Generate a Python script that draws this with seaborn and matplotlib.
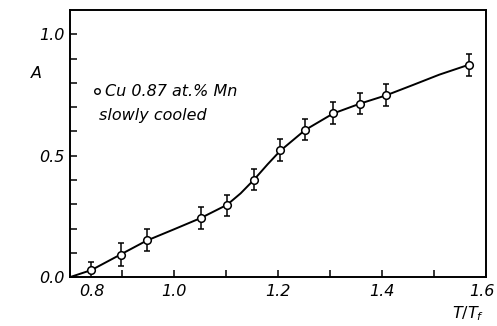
import matplotlib
matplotlib.use("Agg")
import matplotlib.pyplot as plt
import seaborn as sns
import pandas as pd
import matplotlib.transforms as mtransforms

# data
t_ratio = [0.841, 0.897, 0.947, 1.051, 1.102, 1.154, 1.204, 1.252, 1.306, 1.358, 1.408, 1.567]
amp = [0.029, 0.093, 0.152, 0.243, 0.295, 0.402, 0.523, 0.608, 0.676, 0.715, 0.749, 0.875]
err = [0.035, 0.048, 0.045, 0.045, 0.045, 0.045, 0.045, 0.045, 0.045, 0.045, 0.045, 0.045]

curve_x = [0.80, 0.841, 0.897, 0.947, 1.00, 1.051, 1.102, 1.128, 1.154, 1.18, 1.204, 1.252, 1.306, 1.358, 1.408, 1.46, 1.51, 1.567]
curve_y = [0.000, 0.029, 0.093, 0.150, 0.197, 0.243, 0.298, 0.345, 0.402, 0.465, 0.520, 0.606, 0.674, 0.715, 0.749, 0.792, 0.834, 0.875]

sns.set_theme(style="white")
plt.rcParams['font.family'] = ['DejaVu Sans']
plt.rcParams['text.color'] = 'black'
plt.rcParams['xtick.color'] = 'black'
plt.rcParams['ytick.color'] = 'black'
plt.rcParams['axes.labelcolor'] = 'black'

fig = plt.figure(figsize=(4.97, 3.26), dpi=100)
ax = fig.add_axes([0.141, 0.150, 0.837, 0.819])

df_curve = pd.DataFrame({"x": curve_x, "y": curve_y})
df_pts = pd.DataFrame({"x": t_ratio, "y": amp, "e": err})

sns.lineplot(data=df_curve, x="x", y="y", ax=ax, color="black", lw=1.4, sort=True, zorder=2)
ax.errorbar(df_pts["x"], df_pts["y"], yerr=df_pts["e"], fmt="none", ecolor="black",
            elinewidth=1.1, capsize=2.5, capthick=1.1, zorder=3)
sns.scatterplot(data=df_pts, x="x", y="y", ax=ax, marker="o", s=30, facecolor="white",
                edgecolor="black", linewidth=1.1, zorder=4)

ax.set_xlim(0.8, 1.6)
ax.set_ylim(0.0, 1.1)

ax.set_xticks([0.8, 0.9, 1.0, 1.1, 1.2, 1.3, 1.4, 1.5, 1.6])
ax.set_xticklabels(["", "", "1.0", "", "1.2", "", "1.4", "", "1.6"])
ax.set_yticks([0.0, 0.1, 0.2, 0.3, 0.4, 0.5, 0.6, 0.7, 0.8, 0.9, 1.0])
ax.set_yticklabels(["0.0", "", "", "", "", "0.5", "", "", "", "", "1.0"])
ax.tick_params(axis="both", direction="in", length=5, width=1.1, colors="black",
               labelsize=11.5, bottom=True, left=True, top=False, right=False)
ax.tick_params(axis="x", pad=5)
ax.tick_params(axis="y", pad=4)
for lab in ax.get_xticklabels() + ax.get_yticklabels():
    lab.set_fontstyle("italic")
    lab.set_color("black")

# shift the last x label slightly left so it stays inside the figure
last = ax.get_xticklabels()[-1]
last.set_transform(last.get_transform() + mtransforms.ScaledTranslation(-4 / 100, 0, fig.dpi_scale_trans))

ax.text(0.841, -0.026, "0.8", transform=mtransforms.blended_transform_factory(ax.transData, ax.transAxes),
        ha="center", va="top", fontsize=11.5, fontstyle="italic", color="black")

for side in ["left", "bottom", "top", "right"]:
    ax.spines[side].set_visible(True)
    ax.spines[side].set_color("black")
    ax.spines[side].set_linewidth(1.4)

ax.set_xlabel("")
ax.set_ylabel("")
fig.text(36 / 497, 1 - 73 / 326, "A", ha="center", va="center", fontsize=11.5, fontstyle="italic", color="black")
fig.text(468 / 497, 1 - 314 / 326, r"$\mathit{T/T_f}$", ha="center", va="center", fontsize=11.5, color="black")

# legend-like annotation
ax.plot([0.852], [0.765], marker="o", ms=4, mfc="white", mec="black", mew=1.0, ls="none")
ax.text(0.868, 0.765, "Cu 0.87 at.% Mn", ha="left", va="center", fontsize=11.5, fontstyle="italic", color="black")
ax.text(0.855, 0.665, "slowly cooled", ha="left", va="center", fontsize=11.5, fontstyle="italic", color="black")

fig.savefig("out.png", dpi=100, facecolor="white")
